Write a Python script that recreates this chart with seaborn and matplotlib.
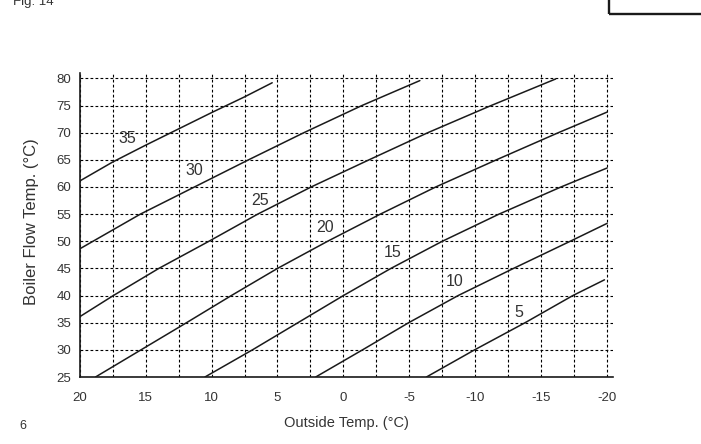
import pandas as pd
import matplotlib
matplotlib.use("Agg")
import matplotlib.pyplot as plt
import matplotlib.patches as mpatches
from matplotlib.ticker import MultipleLocator
import seaborn as sns

# room set-point curves: outside temp vs boiler flow temp
outside_35 = [20, 17.5, 15, 12.5, 10, 7.5, 5.4]
flow_35 = [61.1, 64.6, 67.7, 70.7, 73.7, 76.6, 79.2]

outside_30 = [20, 15.4, 11.3, 7.2, 3.0, -1.4, -5.8]
flow_30 = [48.6, 55, 60, 65, 70, 75, 79.6]

outside_25 = [20, 17.45, 14.0, 10.2, 6.5, 2.45, -1.94, -6.4, -11.2, -16.1]
flow_25 = [36.1, 40, 45, 50, 55, 60, 65, 70, 75, 79.9]

outside_20 = [18.8, 15.35, 11.9, 8.5, 5.0, 1.2, -2.8, -7.0, -11.6, -16.3, -20]
flow_20 = [25, 30, 35, 40, 45, 50, 55, 60, 65, 70, 73.8]

outside_15 = [10.5, 6.9, 3.45, 0.0, -3.6, -7.5, -11.8, -16.5, -20]
flow_15 = [25, 30, 35, 40, 45, 50, 55, 60, 63.5]

outside_10 = [2.1, -1.45, -4.95, -8.7, -12.9, -17.2, -20]
flow_10 = [25, 30, 35, 40, 45, 50, 53.3]

outside_5 = [-6.3, -9.95, -13.78, -17.4, -19.8]
flow_5 = [25, 30, 35, 40, 42.9]

room_temps = [35, 30, 25, 20, 15, 10, 5]
label_x = [16.4, 11.3, 6.3, 1.4, -3.75, -8.4, -13.3]
label_y = [68.9, 63.0, 57.6, 52.6, 48.0, 42.6, 36.9]

x_ticks = [20, 15, 10, 5, 0, -5, -10, -15, -20]
y_ticks = [25, 30, 35, 40, 45, 50, 55, 60, 65, 70, 75, 80]

curves = {
    35: (outside_35, flow_35),
    30: (outside_30, flow_30),
    25: (outside_25, flow_25),
    20: (outside_20, flow_20),
    15: (outside_15, flow_15),
    10: (outside_10, flow_10),
    5: (outside_5, flow_5),
}
frames = []
for room, (xs, ys) in curves.items():
    frames.append(pd.DataFrame({"outside": xs, "flow": ys, "room": room}))
df = pd.concat(frames, ignore_index=True)

sns.set_style("white")
plt.rcParams["font.family"] = ["Liberation Sans", "DejaVu Sans"]
text_col = "#333333"

fig = plt.figure(figsize=(7.01, 4.44), dpi=100)
ax = fig.add_axes([0.1137, 0.1509, 0.7608, 0.6847])

sns.lineplot(data=df, x="outside", y="flow", units="room", estimator=None,
             sort=False, color="#1a1a1a", linewidth=1.1, ax=ax)

ax.set_xlim(20, -20.45)
ax.set_ylim(25, 81)
ax.set_xticks(x_ticks)
ax.set_xticklabels([str(t) for t in x_ticks])
ax.set_yticks(y_ticks)
ax.xaxis.set_minor_locator(MultipleLocator(2.5))
ax.grid(True, which="both", axis="x", color="black", linestyle=(0, (2.5, 2)), linewidth=0.8)
ax.grid(True, which="major", axis="y", color="black", linestyle=(0, (2.5, 2)), linewidth=0.8)
ax.tick_params(axis="both", which="both", length=0, labelsize=9.5, colors=text_col)
ax.tick_params(axis="x", pad=11)
ax.tick_params(axis="y", pad=6)

sns.despine(ax=ax, top=True, right=True)
for side in ["left", "bottom"]:
    ax.spines[side].set_color("#1a1a1a")
    ax.spines[side].set_linewidth(1.2)

ax.set_xlabel("")
ax.set_ylabel("")

for room, lx, ly in zip(room_temps, label_x, label_y):
    ax.text(lx, ly, str(room), ha="center", va="center", fontsize=11.5, color=text_col)

fig.text(346 / 701, 1 - 423 / 444, "Outside Temp. (°C)", ha="center", va="center",
         fontsize=10.5, color=text_col)
fig.text(32 / 701, 1 - 222 / 444, "Boiler Flow Temp. (°C)", ha="center", va="center",
         rotation=90, fontsize=12, color=text_col)
fig.text(13 / 701, 1 - 5 / 444, "Fig. 14", ha="left", va="baseline",
         fontsize=9.5, color=text_col)
fig.text(23 / 701, 1 - 426 / 444, "6", ha="center", va="center",
         fontsize=9, color=text_col)

box = mpatches.Rectangle((609 / 701, 1 - 14.3 / 444), 0.2, 0.1, transform=fig.transFigure,
                         fill=False, edgecolor="#1a1a1a", linewidth=1.7, clip_on=False)
fig.patches.append(box)

plt.savefig("out.png", dpi=100)
plt.close()
